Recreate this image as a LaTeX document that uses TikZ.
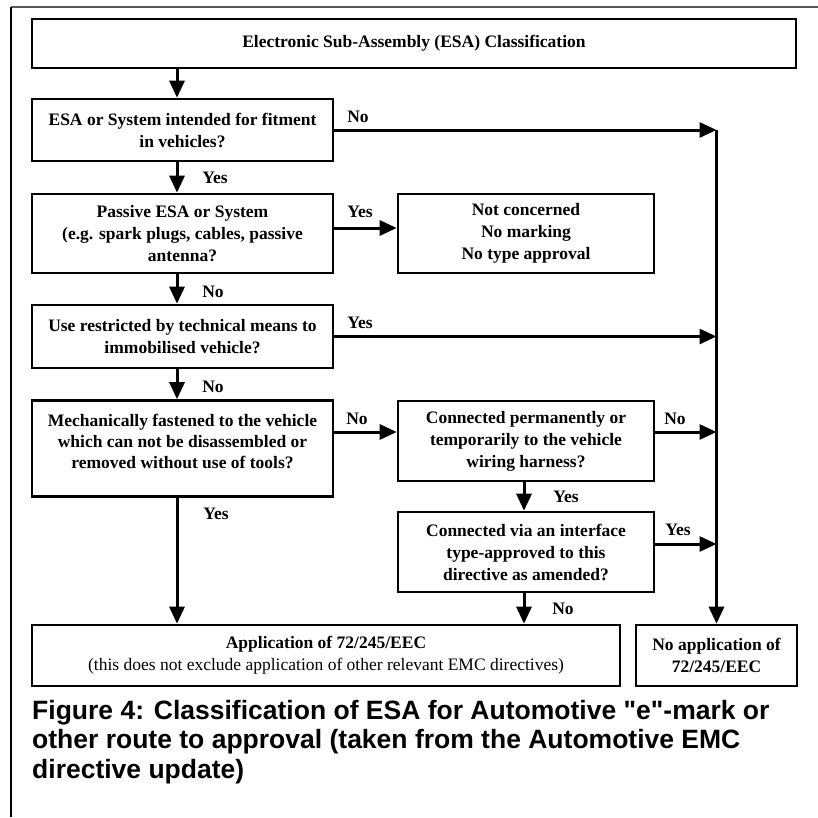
\documentclass[tikz,border=0pt]{standalone}
\usepackage{fontspec}
\setmainfont{Liberation Serif}
\newfontfamily\capfont{Liberation Sans}[Ligatures=TeXOff]
\usetikzlibrary{arrows.meta}
\begin{document}
\begin{tikzpicture}[x=1pt,y=-1pt,
  box/.style={draw, line width=2.6pt, inner sep=0pt, align=center,
    font=\fontsize{17.5}{22}\selectfont\bfseries},
  txt/.style={inner sep=0pt, align=center, font=\fontsize{17.5}{21}\selectfont\bfseries},
  lbl/.style={inner sep=0pt, font=\fontsize{17.5}{22}\selectfont\bfseries},
  arr/.style={line width=3pt, -{Triangle[length=17pt,width=15pt]}},
  frame/.style={line width=2pt}
]
\useasboundingbox (0,0) rectangle (818,817);
% outer frame
\coordinate (f0) at (11,7);
\coordinate (f1) at (818,7);
\coordinate (f2) at (11,817);
\draw[frame, black!65] (f0) -- (f1);
\draw[frame] (f0) -- (f2);
% boxes
\node[box, minimum width=764pt, minimum height=49pt] (b1) at (414,43.5) {Electronic Sub-Assembly (ESA) Classification};
\node[box, minimum width=301pt, minimum height=62pt] (b2) at (182.5,130) {ESA or System intended for fitment\\in vehicles?};
\node[box, minimum width=301pt, minimum height=79pt] (b3) at (182.5,233.5) {Passive ESA or System\\(e.g. spark plugs, cables, passive\\antenna?};
\node[box, minimum width=256pt, minimum height=79pt] (b4) at (526,233.5) {Not concerned\\No marking\\No type approval};
\node[box, minimum width=301pt, minimum height=63pt] (b5) at (182.5,336.5) {Use restricted by technical means to\\immobilised vehicle?};
\node[box, minimum width=301pt, minimum height=96pt] (b6) at (182.5,448.5) {};
\node[txt] (t6) at (182.5,441) {Mechanically fastened to the vehicle\\which can not be disassembled or\\removed without use of tools?};
\node[box, minimum width=256pt, minimum height=80pt] (b7) at (526,441) {Connected permanently or\\temporarily to the vehicle\\wiring harness?};
\node[box, minimum width=256pt, minimum height=80pt] (b8) at (526,552) {Connected via an interface\\type-approved to this\\directive as amended?};
\node[box, minimum width=588pt, minimum height=61pt] (b9) at (326,655.5) {Application of 72/245/EEC\\{\mdseries (this does not exclude application of other relevant EMC directives)}};
\node[box, minimum width=161pt, minimum height=61pt] (b10) at (716.5,655.5) {No application of\\72/245/EEC};
% helper coordinates
\coordinate (ax) at (177,0);
\coordinate (bx) at (524,0);
\coordinate (y3) at (0,228);
\coordinate (y6) at (0,432);
\coordinate (y8) at (0,544);
% vertical arrows
\draw[arr] (b1.south -| ax) -- (b2.north -| ax);
\draw[arr] (b2.south -| ax) -- (b3.north -| ax);
\draw[arr] (b3.south -| ax) -- (b5.north -| ax);
\draw[arr] (b5.south -| ax) -- (b6.north -| ax);
\draw[arr] (b6.south -| ax) -- (b9.north -| ax);
\draw[arr] (b7.south -| bx) -- (b8.north -| bx);
\draw[arr] (b8.south -| bx) -- (b9.north -| bx);
\draw[arr] (b10.north |- b2.east) -- (b10.north);
% horizontal arrows
\draw[arr] (b3.east |- y3) -- (b4.west |- y3);
\draw[arr] (b6.east |- y6) -- (b7.west |- y6);
\draw[arr] (b2.east) -- (b10.north |- b2.east);
\draw[arr] (b5.east) -- (b10.north |- b5.east);
\draw[arr] (b7.east |- y6) -- (b10.north |- y6);
\draw[arr] (b8.east |- y8) -- (b10.north |- y8);
% labels
\node[lbl] (l1) at (358,117) {No};
\node[lbl] (l2) at (215,178) {Yes};
\node[lbl] (l3) at (360,212) {Yes};
\node[lbl] (l4) at (213,292) {No};
\node[lbl] (l5) at (360,323) {Yes};
\node[lbl] (l6) at (213,387) {No};
\node[lbl] (l7) at (357,419) {No};
\node[lbl] (l8) at (675,419) {No};
\node[lbl] (l9) at (566,497) {Yes};
\node[lbl] (l10) at (216,514) {Yes};
\node[lbl] (l11) at (678,530) {Yes};
\node[lbl] (l12) at (563,609) {No};
% caption
\node[anchor=north west, inner sep=0pt, align=left,
  font=\capfont\bfseries\fontsize{26.5}{29.5}\selectfont] (cap) at (32,700)
  {Figure 4: Classification of ESA for Automotive "e"-mark or\\other route to approval (taken from the Automotive EMC\\directive update)};
\end{tikzpicture}
\end{document}
